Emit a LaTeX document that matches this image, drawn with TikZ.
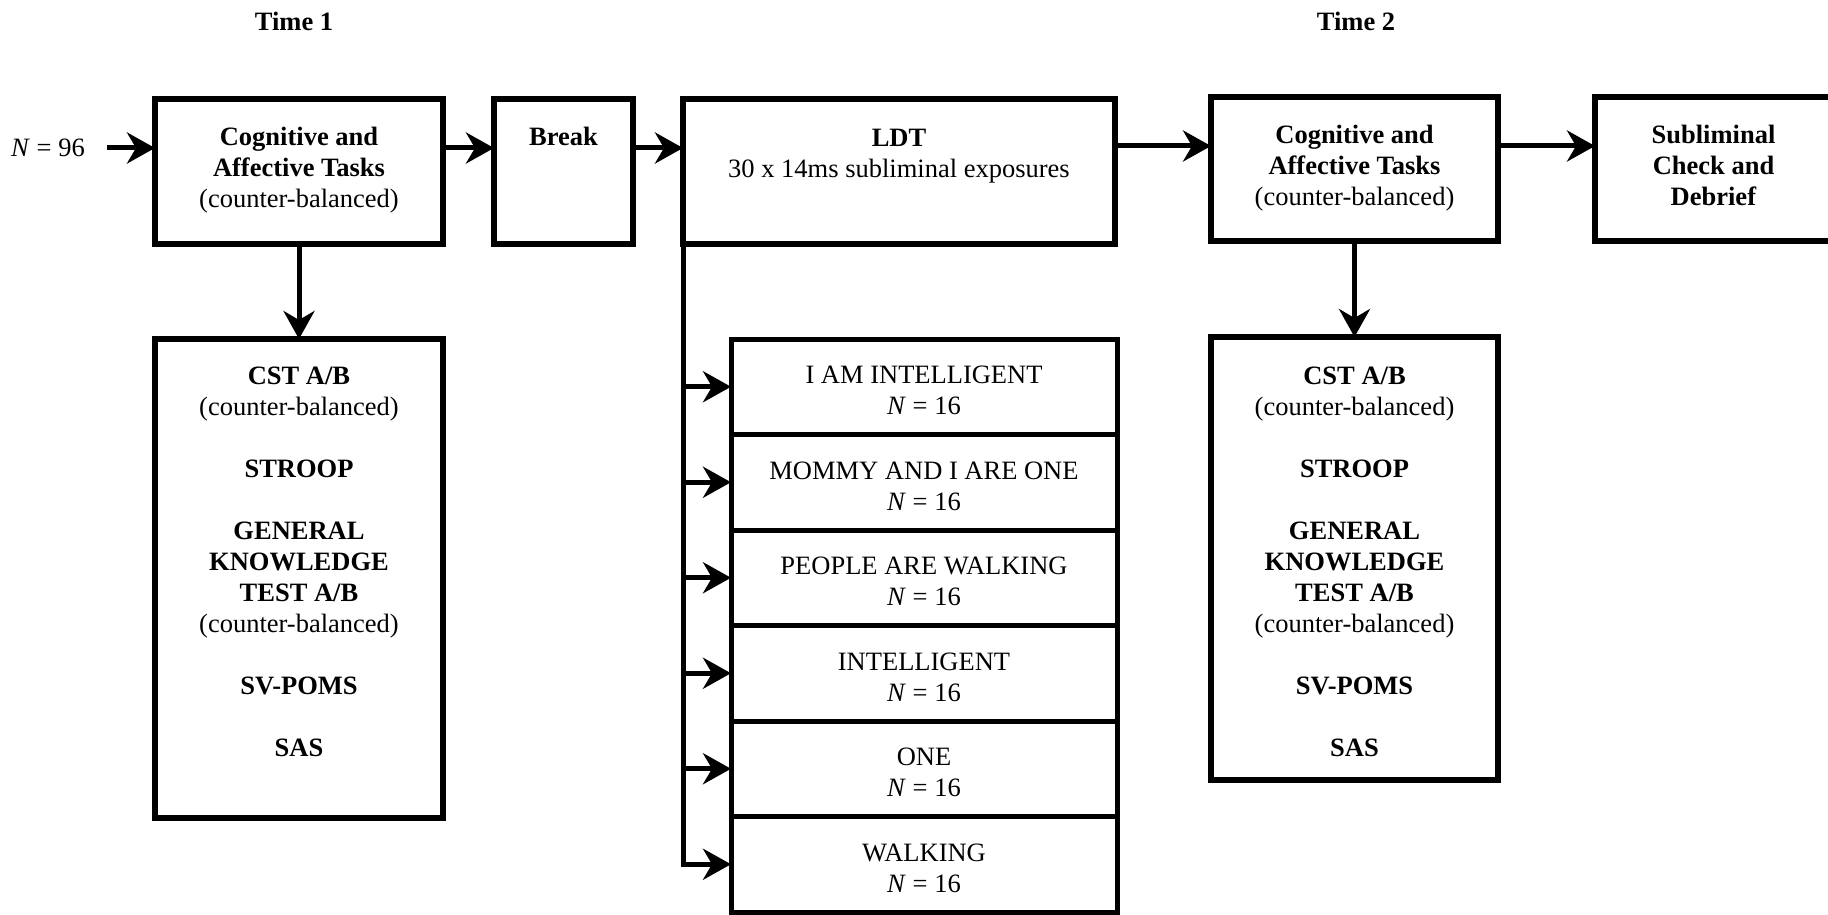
\documentclass[tikz,border=0pt]{standalone}
\usepackage{fontspec}
\setmainfont{Liberation Serif}
\usetikzlibrary{arrows.meta,calc}

\begin{document}
\begin{tikzpicture}[x=1pt,y=-1pt,
  every node/.style={inner sep=0pt,outer sep=0pt,font=\fontsize{26.5}{31}\selectfont},
  box/.style={draw,rectangle,line width=5.5pt,anchor=north west},
  lbl/.style={align=center,anchor=north},
  conn/.style={line width=5pt,-{Stealth[length=28pt,width=31pt,inset=9pt]}},
  rail/.style={line width=5pt}]
\useasboundingbox (0,0) rectangle (1828,915);

% time headings
\node (time1) at (294,21) {\textbf{Time 1}};
\node (time2) at (1356,21) {\textbf{Time 2}};

% main sequence
\node[anchor=base] (n96) at (48,157) {\textit{N} = 96};
\node[box,minimum width=288pt,minimum height=145pt] (b1) at (155,99) {};
\node[box,minimum width=139pt,minimum height=145pt] (brk) at (494,99) {};
\node[box,minimum width=432pt,minimum height=145pt] (ldt) at (683,99) {};
\node[box,minimum width=287pt,minimum height=144pt] (b2) at (1211,97) {};
\node[box,minimum width=237pt,minimum height=144pt] (sub) at (1595,97) {};

\node[lbl] (b1t) at ($(b1.north)+(0,28)$) {\textbf{Cognitive and}\\\textbf{Affective Tasks}\\(counter-balanced)};
\node[lbl] (brkt) at ($(brk.north)+(0,28)$) {\textbf{Break}};
\node[lbl] (ldtt) at ($(ldt.north)+(0,30)$) {\textbf{LDT}\\30 x 14ms subliminal exposures};
\node[lbl] (b2t) at ($(b2.north)+(0,28)$) {\textbf{Cognitive and}\\\textbf{Affective Tasks}\\(counter-balanced)};
\node[lbl] (subt) at ($(sub.north)+(0,28)$) {\textbf{Subliminal}\\\textbf{Check and}\\\textbf{Debrief}};

% task lists
\node[box,minimum width=288pt,minimum height=479pt] (tasks1) at (155,339) {};
\node[box,minimum width=287pt,minimum height=443pt] (tasks2) at (1211,337) {};
\node[lbl] (tasks1t) at ($(tasks1.north)+(0,28)$) {\textbf{CST A/B}\\(counter-balanced)\\[31pt]\textbf{STROOP}\\[31pt]\textbf{GENERAL}\\\textbf{KNOWLEDGE}\\\textbf{TEST A/B}\\(counter-balanced)\\[31pt]\textbf{SV-POMS}\\[31pt]\textbf{SAS}};
\node[lbl] (tasks2t) at ($(tasks2.north)+(0,30)$) {\textbf{CST A/B}\\(counter-balanced)\\[31pt]\textbf{STROOP}\\[31pt]\textbf{GENERAL}\\\textbf{KNOWLEDGE}\\\textbf{TEST A/B}\\(counter-balanced)\\[31pt]\textbf{SV-POMS}\\[31pt]\textbf{SAS}};

% prime conditions
\foreach \i/\t in {1/I AM INTELLIGENT,2/MOMMY AND I ARE ONE,3/PEOPLE ARE WALKING,4/INTELLIGENT,5/ONE,6/WALKING}{
  \node[box,line width=5pt,minimum width=386pt,minimum height=95.5pt] (s\i) at (731,{339+95.5*(\i-1)}) {};
  \node[align=center] (s\i t) at ($(s\i.center)+(0,4)$) {\t\\\textit{N} = 16};
}

% connectors
\coordinate (in) at (107,148);
\coordinate (r1) at (0,148);
\coordinate (r2) at (0,146);
\draw[conn] (in) -- (b1.west |- in);
\draw[conn] (b1.east |- r1) -- (brk.west |- r1);
\draw[conn] (brk.east |- r1) -- (ldt.west |- r1);
\draw[conn] (ldt.east |- r2) -- (b2.west |- r2);
\draw[conn] (b2.east |- r2) -- (sub.west |- r2);
\draw[conn] (b1.south) -- (tasks1.north);
\draw[conn] (b2.south) -- (tasks2.north);
\foreach \i in {1,...,5}
  \draw[conn] (ldt.south west |- s\i.west) -- (s\i.west);
\draw[conn] (ldt.south west) -- (ldt.south west |- s6.west) -- (s6.west);
\end{tikzpicture}
\end{document}
